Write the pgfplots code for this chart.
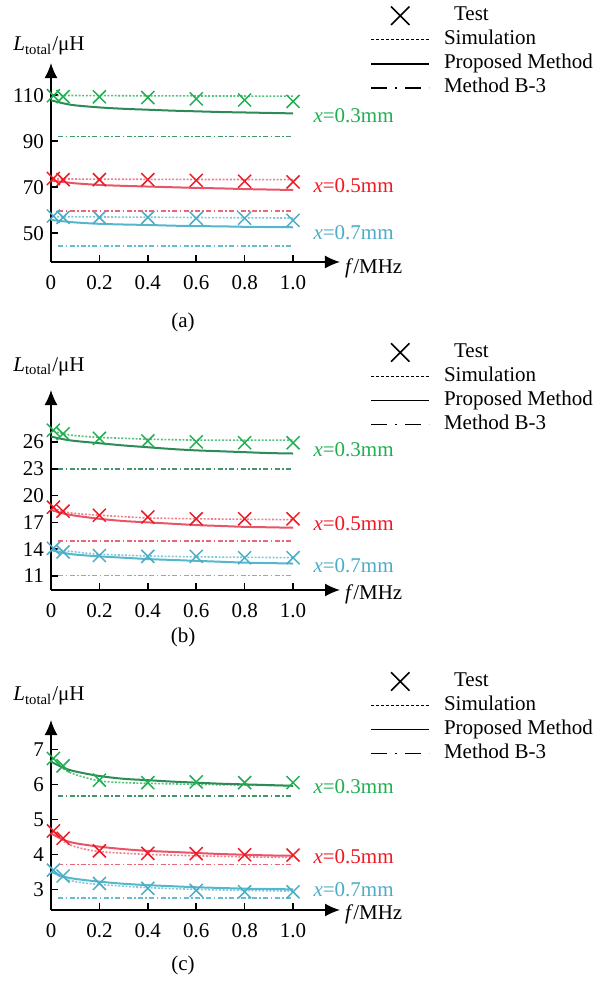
\documentclass[border=0pt]{standalone}
\usepackage{fontspec}
\setmainfont{Liberation Serif}
\usepackage{pgfplots}
\pgfplotsset{compat=1.18}
\usetikzlibrary{arrows.meta}
\newcommand{\fsz}{\fontsize{10.5}{12}\selectfont}
\definecolor{gM}{RGB}{30,175,80}
\definecolor{gL}{RGB}{46,139,87}
\definecolor{rM}{RGB}{240,25,35}
\definecolor{rL}{RGB}{232,85,105}
\definecolor{cM}{RGB}{75,172,198}
\definecolor{cL}{RGB}{85,182,204}
\pgfplotsset{
  panel/.style={
    scale only axis, width=144.5pt, xmin=0, xmax=1.194,
    axis lines=left,
    axis line style={line width=0.8pt, -{Latex[length=7.5pt,width=6.5pt]}},
    tick align=inside, major tick length=3.5pt,
    tick style={black, line width=0.8pt},
    xtick={0,0.2,0.4,0.6,0.8,1.0},
    xticklabels={0,0.2,0.4,0.6,0.8,1.0},
    /pgf/number format/assume math mode=true,
    tick label style={font=\fsz},
    x tick label style={yshift=-3pt},
    label style={font=\fsz},
    xlabel={\textit{f}/MHz},
    ylabel={\textit{L}\textsubscript{total}/μH},
    clip=false,
    legend cell align=left,
    legend style={draw=none, fill=none, inner sep=0pt, anchor=north west, font=\fsz,
      row sep=0pt,
      nodes={text height=7.5pt, text depth=2.5pt, inner sep=1pt},
      /tikz/every odd column/.append style={column sep=6pt}},
    legend image code/.code={\draw[mark repeat=2,mark phase=2,##1] plot coordinates {(0pt,0pt) (14.5pt,0pt) (29pt,0pt)};},
  },
  tst/.style={only marks, mark=x, mark size=4.6pt, mark options={line width=0.75pt}, forget plot},
  sim/.style={no marks, line width=0.8pt, dash pattern=on 1pt off 0.8pt, opacity=0.75, forget plot},
  pro/.style={no marks, line width=1pt, smooth, forget plot},
  bthree/.style={no marks, line width=0.8pt, dash pattern=on 2.5pt off 1.2pt on 0.8pt off 1.2pt, opacity=0.9, forget plot},
}
\newcommand{\legendimgs}{%
  \addlegendimage{black, only marks, mark=x, mark size=6.5pt, mark options={line width=0.8pt}}
  \addlegendentry{\hspace{5pt}Test}
  \addlegendimage{black, line width=0.7pt, dash pattern=on 1.5pt off 1pt}
  \addlegendentry{Simulation}
  \addlegendimage{black, line width=0.8pt}
  \addlegendentry{Proposed Method}
  \addlegendimage{black, line width=0.8pt, dash pattern=on 8pt off 4pt on 1pt off 4pt}
  \addlegendentry{Method B-3}
}
\begin{document}
\begin{tikzpicture}
\path[use as bounding box] (0,0) rectangle (301.5pt,-492.5pt);
% ---------------- (a)
\begin{axis}[panel, at={(25.5pt,-131pt)}, anchor=south west, height=99.5pt,
  ymin=37.5, ymax=124, ytick={50,70,90,110},
  xlabel style={at={(rel axis cs:1,0)}, anchor=west, xshift=-1pt, yshift=-3pt},
  ylabel style={rotate=-90, at={(rel axis cs:0,1.085)}, anchor=center, xshift=-1pt},
  legend style={at={(axis description cs:1.104,1.30)}}]
\legendimgs
% green
\addplot[tst, gM] coordinates {(0.01,109.8)(0.05,109.4)(0.2,109.3)(0.4,109.0)(0.6,108.4)(0.8,107.9)(1.0,107.3)};
\addplot[sim, gM] coordinates {(0.01,109.9)(0.5,109.7)(1.0,109.6)};
\addplot[pro, gL] coordinates {(0,107.8)(0.05,106.5)(0.1,105.6)(0.2,104.7)(0.3,104.1)(0.4,103.7)(0.5,103.3)(0.6,103.0)(0.7,102.7)(0.8,102.5)(0.9,102.3)(1.0,102.1)};
\addplot[bthree, gL] coordinates {(0.03,92.0)(1.0,92.0)};
% red
\addplot[tst, rM] coordinates {(0.01,73.8)(0.05,73.3)(0.2,73.3)(0.4,73.3)(0.6,73.0)(0.8,72.6)(1.0,72.3)};
\addplot[sim, rL] coordinates {(0.01,73.6)(0.5,73.4)(1.0,73.3)};
\addplot[pro, rL] coordinates {(0,72.9)(0.05,72.3)(0.1,71.7)(0.2,71.0)(0.3,70.6)(0.4,70.3)(0.5,70.0)(0.6,69.7)(0.7,69.5)(0.8,69.2)(0.9,69.0)(1.0,68.8)};
\addplot[bthree, rL] coordinates {(0.03,59.8)(1.0,59.8)};
% cyan
\addplot[tst, cM] coordinates {(0.01,57.5)(0.05,56.9)(0.2,56.9)(0.4,56.9)(0.6,56.5)(0.8,56.5)(1.0,55.6)};
\addplot[sim, cL] coordinates {(0.01,57.2)(0.5,56.9)(1.0,56.6)};
\addplot[pro, cL] coordinates {(0,55.8)(0.05,55.2)(0.1,54.7)(0.2,54.1)(0.3,53.8)(0.4,53.6)(0.5,53.3)(0.6,53.1)(0.7,53.0)(0.8,52.8)(0.9,52.7)(1.0,52.6)};
\addplot[bthree, cL] coordinates {(0.03,44.5)(1.0,44.5)};
\node[anchor=west, inner sep=0pt, font=\fsz, text=gM] at (axis cs:1.083,101.3) {\textit{x}=0.3mm};
\node[anchor=west, inner sep=0pt, font=\fsz, text=rM] at (axis cs:1.083,70.9) {\textit{x}=0.5mm};
\node[anchor=west, inner sep=0pt, font=\fsz, text=cM] at (axis cs:1.083,50.4) {\textit{x}=0.7mm};
\end{axis}
\node[font=\fsz] at (91.5pt,-161pt) {(a)};
% ---------------- (b)
\begin{axis}[panel, at={(25.5pt,-295pt)}, anchor=south west, height=100pt,
  ymin=9.44, ymax=31.8, ytick={11,14,17,20,23,26},
  xlabel style={at={(rel axis cs:1,0)}, anchor=west, xshift=-1pt, yshift=-2pt},
  ylabel style={rotate=-90, at={(rel axis cs:0,1.115)}, anchor=center, xshift=-1pt},
  legend style={at={(axis description cs:1.104,1.25)}}]
\legendimgs
\addplot[tst, gM] coordinates {(0.01,27.3)(0.05,26.9)(0.2,26.4)(0.4,26.1)(0.6,26.0)(0.8,25.9)(1.0,25.9)};
\addplot[sim, gM, smooth] coordinates {(0.01,27.2)(0.05,26.9)(0.1,26.7)(0.2,26.5)(0.3,26.4)(0.4,26.3)(0.6,26.2)(0.8,26.2)(1.0,26.2)};
\addplot[pro, gL] coordinates {(0,26.6)(0.05,26.3)(0.1,26.1)(0.2,25.85)(0.3,25.6)(0.4,25.4)(0.5,25.2)(0.6,25.05)(0.7,24.95)(0.8,24.85)(0.9,24.75)(1.0,24.7)};
\addplot[bthree, gL] coordinates {(0.03,23.0)(1.0,23.0)};
\addplot[tst, rM] coordinates {(0.01,18.7)(0.05,18.25)(0.2,17.8)(0.4,17.6)(0.6,17.4)(0.8,17.4)(1.0,17.4)};
\addplot[sim, rL, smooth] coordinates {(0.01,18.6)(0.05,18.2)(0.1,18.0)(0.2,17.8)(0.4,17.5)(0.6,17.4)(0.8,17.35)(1.0,17.3)};
\addplot[pro, rL] coordinates {(0,18.4)(0.05,18.0)(0.1,17.75)(0.2,17.4)(0.3,17.15)(0.4,17.0)(0.5,16.85)(0.6,16.7)(0.7,16.6)(0.8,16.5)(0.9,16.45)(1.0,16.4)};
\addplot[bthree, rL] coordinates {(0.03,14.9)(1.0,14.9)};
\addplot[tst, cM] coordinates {(0.01,14.1)(0.05,13.7)(0.2,13.3)(0.4,13.2)(0.6,13.2)(0.8,13.05)(1.0,13.05)};
\addplot[sim, cL, smooth] coordinates {(0.01,14.1)(0.05,13.85)(0.1,13.7)(0.2,13.45)(0.4,13.25)(0.6,13.15)(0.8,13.1)(1.0,13.05)};
\addplot[pro, cL] coordinates {(0,13.9)(0.05,13.6)(0.1,13.4)(0.2,13.2)(0.3,13.05)(0.4,12.9)(0.5,12.8)(0.6,12.7)(0.7,12.6)(0.8,12.5)(0.9,12.45)(1.0,12.4)};
\addplot[bthree, cL] coordinates {(0.03,11.05)(1.0,11.05)};
\node[anchor=west, inner sep=0pt, font=\fsz, text=gM] at (axis cs:1.083,25.1) {\textit{x}=0.3mm};
\node[anchor=west, inner sep=0pt, font=\fsz, text=rM] at (axis cs:1.083,16.9) {\textit{x}=0.5mm};
\node[anchor=west, inner sep=0pt, font=\fsz, text=cM] at (axis cs:1.083,12.2) {\textit{x}=0.7mm};
\end{axis}
\node[font=\fsz] at (91.5pt,-318.5pt) {(b)};
% ---------------- (c)
\begin{axis}[panel, at={(25.5pt,-455pt)}, anchor=south west, height=95pt,
  ymin=2.41, ymax=7.84, ytick={3,4,5,6,7},
  xlabel style={at={(rel axis cs:1,0)}, anchor=west, xshift=-1pt, yshift=-2pt},
  ylabel style={rotate=-90, at={(rel axis cs:0,1.126)}, anchor=center, xshift=-1pt},
  legend style={at={(axis description cs:1.104,1.268)}}]
\legendimgs
\addplot[tst, gM] coordinates {(0.01,6.74)(0.05,6.53)(0.2,6.12)(0.4,6.05)(0.6,6.07)(0.8,6.05)(1.0,6.05)};
\addplot[sim, gM, smooth] coordinates {(0.01,6.75)(0.05,6.45)(0.1,6.28)(0.2,6.1)(0.3,6.05)(0.4,6.03)(0.6,6.0)(0.8,5.98)(1.0,5.96)};
\addplot[pro, gL] coordinates {(0,6.65)(0.05,6.48)(0.1,6.37)(0.2,6.24)(0.3,6.16)(0.4,6.12)(0.5,6.08)(0.6,6.05)(0.7,6.02)(0.8,6.0)(0.9,5.98)(1.0,5.96)};
\addplot[bthree, gL] coordinates {(0.03,5.67)(1.0,5.67)};
\addplot[tst, rM] coordinates {(0.01,4.67)(0.05,4.46)(0.2,4.1)(0.4,4.03)(0.6,4.02)(0.8,3.99)(1.0,3.98)};
\addplot[sim, rL, smooth] coordinates {(0.01,4.65)(0.05,4.38)(0.1,4.22)(0.2,4.08)(0.4,4.0)(0.6,3.96)(0.8,3.93)(1.0,3.91)};
\addplot[pro, rL] coordinates {(0,4.6)(0.05,4.42)(0.1,4.32)(0.2,4.22)(0.3,4.15)(0.4,4.1)(0.5,4.07)(0.6,4.04)(0.7,4.01)(0.8,3.99)(0.9,3.97)(1.0,3.96)};
\addplot[bthree, rL] coordinates {(0.03,3.71)(1.0,3.71)};
\addplot[tst, cM] coordinates {(0.01,3.55)(0.05,3.38)(0.2,3.17)(0.4,3.03)(0.6,2.97)(0.8,2.93)(1.0,2.93)};
\addplot[sim, cL, smooth] coordinates {(0.01,3.55)(0.05,3.33)(0.1,3.22)(0.2,3.14)(0.4,3.05)(0.6,3.0)(0.8,2.97)(1.0,2.95)};
\addplot[pro, cL] coordinates {(0,3.5)(0.05,3.37)(0.1,3.3)(0.2,3.22)(0.3,3.16)(0.4,3.12)(0.5,3.09)(0.6,3.06)(0.7,3.04)(0.8,3.02)(0.9,3.01)(1.0,3.0)};
\addplot[bthree, cL] coordinates {(0.03,2.76)(1.0,2.76)};
\node[anchor=west, inner sep=0pt, font=\fsz, text=gM] at (axis cs:1.083,5.93) {\textit{x}=0.3mm};
\node[anchor=west, inner sep=0pt, font=\fsz, text=rM] at (axis cs:1.083,3.93) {\textit{x}=0.5mm};
\node[anchor=west, inner sep=0pt, font=\fsz, text=cM] at (axis cs:1.083,2.98) {\textit{x}=0.7mm};
\end{axis}
\node[font=\fsz] at (91.5pt,-482.5pt) {(c)};
\end{tikzpicture}
\end{document}
